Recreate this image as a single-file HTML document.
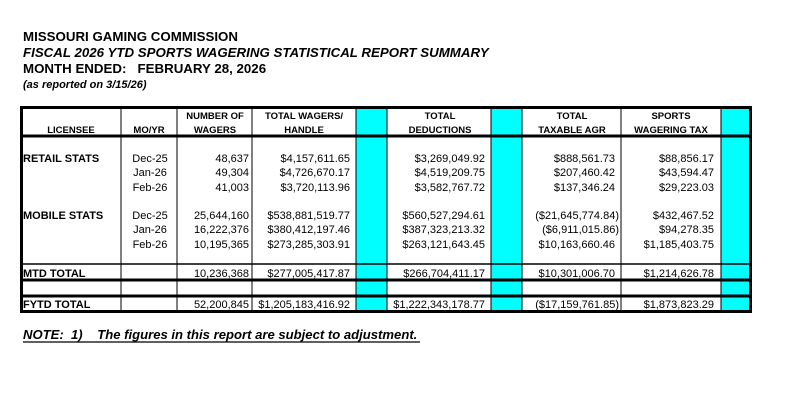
<!DOCTYPE html>
<html><head><style>
html,body{margin:0;padding:0;background:#fff;}
svg{display:block;font-family:"Liberation Sans",Arial,sans-serif;}
.h{font-weight:bold;font-size:9.5px;}
.d{font-size:11px;}
.b{font-weight:bold;font-size:11px;}
</style></head><body>
<svg width="802" height="405" xmlns="http://www.w3.org/2000/svg">
<g font-weight="bold" font-size="13.3">
<text x="23" y="41">MISSOURI GAMING COMMISSION</text>
<text x="23" y="57" font-style="italic">FISCAL 2026 YTD SPORTS WAGERING STATISTICAL REPORT SUMMARY</text>
<text x="23" y="73" xml:space="preserve">MONTH ENDED:   FEBRUARY 28, 2026</text>
</g>
<text x="23" y="88" font-size="11" font-weight="bold" font-style="italic">(as reported on 3/15/26)</text>
<text x="23" y="339" font-size="13.1" font-weight="bold" font-style="italic" xml:space="preserve">NOTE:  1)    The figures in this report are subject to adjustment.</text>
<line x1="23" y1="342" x2="420" y2="342" stroke="#000" stroke-width="1.2"/>

<g fill="#00ffff">
<rect x="356" y="106" width="31" height="207"/>
<rect x="491" y="106" width="31" height="207"/>
<rect x="721" y="106" width="31" height="207"/>
</g>
<g stroke="#000" stroke-width="1">
<line x1="121" y1="106" x2="121" y2="313"/>
<line x1="177" y1="106" x2="177" y2="313"/>
<line x1="252" y1="106" x2="252" y2="313"/>
<line x1="356" y1="106" x2="356" y2="313"/>
<line x1="387" y1="106" x2="387" y2="313"/>
<line x1="491" y1="106" x2="491" y2="313"/>
<line x1="522" y1="106" x2="522" y2="313"/>
<line x1="621" y1="106" x2="621" y2="313"/>
<line x1="721" y1="106" x2="721" y2="313"/>
</g>
<g stroke="#000" stroke-width="3">
<line x1="20" y1="136" x2="752" y2="136"/>
<line x1="20" y1="264" x2="752" y2="264" stroke-width="1.5"/>
<line x1="20" y1="280" x2="752" y2="280"/>
<line x1="20" y1="296" x2="752" y2="296"/>
</g>
<rect x="21.5" y="107.5" width="729" height="204" fill="none" stroke="#000" stroke-width="3"/>

<g class="h" text-anchor="middle">
<text x="71" y="133">LICENSEE</text>
<text x="149" y="133">MO/YR</text>
<text x="215" y="119">NUMBER OF</text>
<text x="215" y="133">WAGERS</text>
<text x="304" y="119">TOTAL WAGERS/</text>
<text x="304" y="133">HANDLE</text>
<text x="440" y="119">TOTAL</text>
<text x="440" y="133">DEDUCTIONS</text>
<text x="572" y="119">TOTAL</text>
<text x="572" y="133">TAXABLE AGR</text>
<text x="671" y="119">SPORTS</text>
<text x="671" y="133">WAGERING TAX</text>
</g>

<g class="b">
<text x="23" y="162">RETAIL STATS</text>
<text x="23" y="219">MOBILE STATS</text>
<text x="23" y="277">MTD TOTAL</text>
<text x="23" y="308">FYTD TOTAL</text>
</g>
<g class="d" text-anchor="middle">
<text x="150" y="162">Dec-25</text><text x="150" y="176">Jan-26</text><text x="150" y="191">Feb-26</text>
<text x="150" y="219">Dec-25</text><text x="150" y="233">Jan-26</text><text x="150" y="248">Feb-26</text>
</g>
<g class="d" text-anchor="end">
<text x="249" y="162">48,637</text><text x="249" y="176">49,304</text><text x="249" y="191">41,003</text>
<text x="249" y="219">25,644,160</text><text x="249" y="233">16,222,376</text><text x="249" y="248">10,195,365</text>
<text x="249" y="277">10,236,368</text><text x="249" y="308">52,200,845</text>

<text x="350" y="162">$4,157,611.65</text><text x="350" y="176">$4,726,670.17</text><text x="350" y="191">$3,720,113.96</text>
<text x="350" y="219">$538,881,519.77</text><text x="350" y="233">$380,412,197.46</text><text x="350" y="248">$273,285,303.91</text>
<text x="350" y="277">$277,005,417.87</text><text x="350" y="308">$1,205,183,416.92</text>

<text x="485" y="162">$3,269,049.92</text><text x="485" y="176">$4,519,209.75</text><text x="485" y="191">$3,582,767.72</text>
<text x="485" y="219">$560,527,294.61</text><text x="485" y="233">$387,323,213.32</text><text x="485" y="248">$263,121,643.45</text>
<text x="485" y="277">$266,704,411.17</text><text x="485" y="308">$1,222,343,178.77</text>

<text x="615" y="162">$888,561.73</text><text x="615" y="176">$207,460.42</text><text x="615" y="191">$137,346.24</text>
<text x="619" y="219">($21,645,774.84)</text><text x="619" y="233">($6,911,015.86)</text><text x="615" y="248">$10,163,660.46</text>
<text x="615" y="277">$10,301,006.70</text><text x="619" y="308">($17,159,761.85)</text>

<text x="714" y="162">$88,856.17</text><text x="714" y="176">$43,594.47</text><text x="714" y="191">$29,223.03</text>
<text x="714" y="219">$432,467.52</text><text x="714" y="233">$94,278.35</text><text x="714" y="248">$1,185,403.75</text>
<text x="714" y="277">$1,214,626.78</text><text x="714" y="308">$1,873,823.29</text>
</g>
</svg>
</body></html>
